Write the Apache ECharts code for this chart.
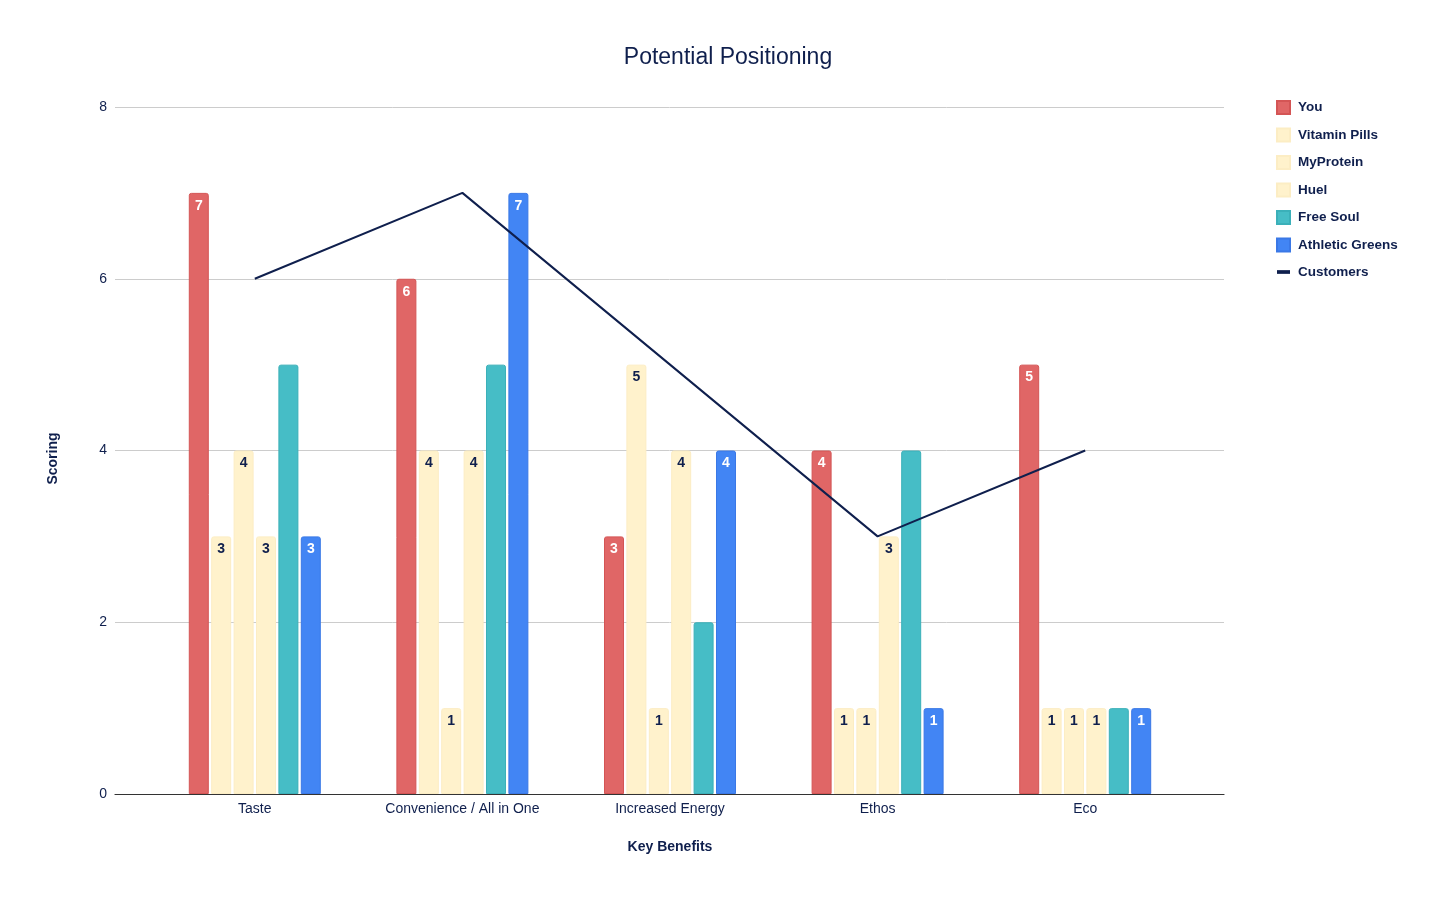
<!DOCTYPE html>
<html>
<head>
<meta charset="utf-8">
<title>Potential Positioning</title>
<script src="https://cdn.jsdelivr.net/npm/echarts@6/dist/echarts.min.js"></script>
<style>
  html, body { margin: 0; padding: 0; background: #fff; }
  #chart { width: 1456px; height: 899px; }
</style>
</head>
<body>
<div id="chart"></div>
<script>
// data
const categories = ["Taste", "Convenience / All in One", "Increased Energy", "Ethos", "Eco"];
const you = [7, 6, 3, 4, 5];
const vitaminPills = [3, 4, 5, 1, 1];
const myProtein = [4, 1, 1, 1, 1];
const huel = [3, 4, 4, 3, 1];
const freeSoul = [5, 5, 2, 4, 1];
const athleticGreens = [3, 7, 4, 1, 1];
const customers = [6, 7, 5, 3, 4];
const yTicks = [0, 2, 4, 6, 8];

const navy = "#0f1f4d";
const font = "Liberation Sans, Arial, sans-serif";

function barSeries(name, data, color, border, labelColor) {
  return {
    name: name,
    type: "bar",
    xAxisIndex: 1,
    yAxisIndex: 1,
    data: data,
    barWidth: 20,
    barGap: "12%",
    itemStyle: { color: color, borderColor: border, borderWidth: 1, borderRadius: [2, 2, 0, 0] },
    label: {
      show: !!labelColor,
      position: "insideTop",
      distance: 6,
      color: labelColor,
      fontFamily: font,
      fontWeight: "bold",
      fontSize: 14
    }
  };
}

const chart = echarts.init(document.getElementById("chart"));
chart.setOption({
  animation: false,
  textStyle: { fontFamily: font },
  title: {
    text: "Potential Positioning",
    left: "center",
    top: 41,
    textStyle: { color: navy, fontSize: 23, fontWeight: "normal", fontFamily: font }
  },
  legend: {
    orient: "vertical",
    left: 1271,
    top: 95,
    icon: "rect",
    itemWidth: 13,
    itemHeight: 13,
    itemGap: 12.5,
    textStyle: { color: navy, fontSize: 13.5, fontWeight: "bold", fontFamily: font, padding: [0, 0, 0, 3] },
    data: [
      "You", "Vitamin Pills", "MyProtein", "Huel", "Free Soul", "Athletic Greens",
      { name: "Customers", icon: "path://M0,0 H14 V4 H0 Z", itemStyle: { color: navy } }
    ]
  },
  grid: [
    { left: 115, right: 232, top: 107, bottom: 105 },
    { left: 151, right: 267, top: 107, bottom: 105 }
  ],
  xAxis: [
    {
      gridIndex: 0,
      type: "value",
      min: 0,
      max: 1,
      axisLine: { show: true, onZero: false, lineStyle: { color: "#333", width: 1.2 } },
      axisTick: { show: false },
      axisLabel: { show: false },
      splitLine: { show: false }
    },
    {
      gridIndex: 1,
      type: "category",
      data: categories,
      axisLine: { show: false },
      axisTick: { show: false },
      axisLabel: { color: navy, fontSize: 14, margin: 8, fontFamily: font },
      name: "Key Benefits",
      nameLocation: "middle",
      nameGap: 46,
      nameTextStyle: { color: navy, fontSize: 14, fontWeight: "bold", fontFamily: font }
    }
  ],
  yAxis: [
    {
      gridIndex: 0,
      type: "value",
      min: yTicks[0],
      max: yTicks[yTicks.length - 1],
      interval: 2,
      axisLine: { show: false },
      axisTick: { show: false },
      axisLabel: { color: navy, fontSize: 14, margin: 8, fontFamily: font },
      splitLine: { lineStyle: { color: "#cccccc", width: 1 } },
      name: "Scoring",
      nameLocation: "middle",
      nameGap: 55,
      nameTextStyle: { color: navy, fontSize: 14, fontWeight: "bold", fontFamily: font, padding: [0, 16, 0, 0] }
    },
    {
      gridIndex: 1,
      type: "value",
      min: yTicks[0],
      max: yTicks[yTicks.length - 1],
      interval: 2,
      show: false
    }
  ],
  series: [
    barSeries("You", you, "#e06666", "#d45555", "#ffffff"),
    barSeries("Vitamin Pills", vitaminPills, "#fff2cc", "#fcedc4", navy),
    barSeries("MyProtein", myProtein, "#fff2cc", "#fcedc4", navy),
    barSeries("Huel", huel, "#fff2cc", "#fcedc4", navy),
    barSeries("Free Soul", freeSoul, "#46bdc6", "#3bb0b9", null),
    barSeries("Athletic Greens", athleticGreens, "#4285f4", "#3a78e6", "#ffffff"),
    {
      name: "Customers",
      type: "line",
      xAxisIndex: 1,
      yAxisIndex: 1,
      data: customers,
      symbol: "none",
      z: 5,
      itemStyle: { color: navy },
      lineStyle: { color: navy, width: 2 }
    }
  ]
});
</script>
</body>
</html>
